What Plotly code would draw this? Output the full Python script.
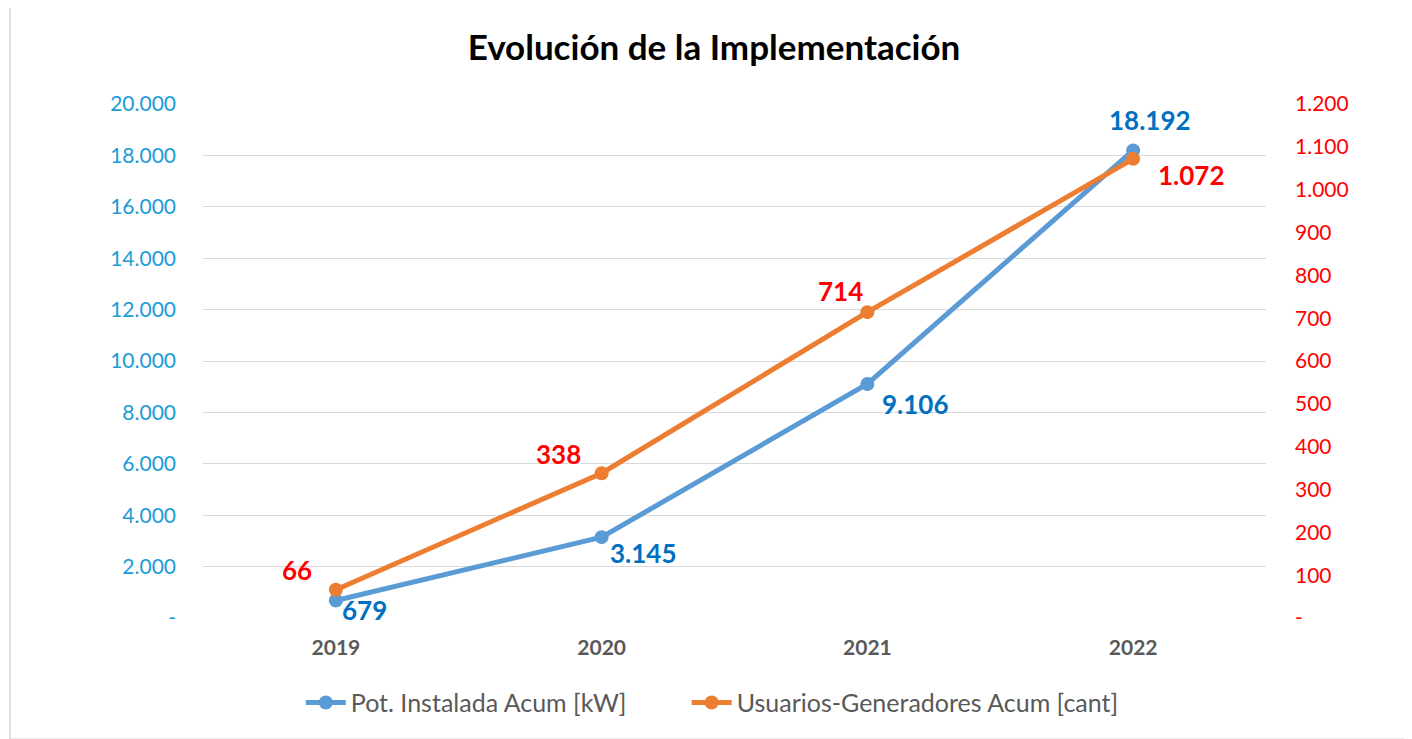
import plotly.graph_objects as go

years = ["2019", "2020", "2021", "2022"]
potencia_kw = [679, 3145, 9106, 18192]
usuarios = [66, 338, 714, 1072]
potencia_labels = ["679", "3.145", "9.106", "18.192"]
usuarios_labels = ["66", "338", "714", "1.072"]

left_tickvals = [0, 2000, 4000, 6000, 8000, 10000, 12000, 14000, 16000, 18000, 20000]
left_ticktext = ["-", "2.000", "4.000", "6.000", "8.000", "10.000", "12.000", "14.000", "16.000", "18.000", "20.000"]
right_tickvals = [0, 100, 200, 300, 400, 500, 600, 700, 800, 900, 1000, 1100, 1200]
right_ticktext = ["-", "100", "200", "300", "400", "500", "600", "700", "800", "900", "1.000", "1.100", "1.200"]

# label offsets (pixels)
pot_shift = [(29, -9), (42, -16), (48, -20), (17, 30)]
usu_shift = [(-39, 20), (-43, 19), (-27, 21), (58, -16)]

FONT = "Lato"
BLUE = "#5b9bd5"
ORANGE = "#ed7d31"

fig = go.Figure()
fig.add_trace(go.Scatter(
    x=years, y=potencia_kw, name="Pot. Instalada Acum [kW]",
    mode="lines+markers", line=dict(color=BLUE, width=5),
    marker=dict(color=BLUE, size=14), yaxis="y", legend="legend"))
fig.add_trace(go.Scatter(
    x=years, y=usuarios, name="Usuarios-Generadores Acum [cant]",
    mode="lines+markers", line=dict(color=ORANGE, width=5),
    marker=dict(color=ORANGE, size=14), yaxis="y2", legend="legend2"))

annotations = []
for i, (yv, t, (dx, dy)) in enumerate(zip(potencia_kw, potencia_labels, pot_shift)):
    annotations.append(dict(x=i, y=yv, xref="x", yref="y", text="<b>%s</b>" % t, showarrow=False,
                            xshift=dx, yshift=dy,
                            font=dict(family=FONT, size=26, color="#0070c0")))
for i, (yv, t, (dx, dy)) in enumerate(zip(usuarios, usuarios_labels, usu_shift)):
    annotations.append(dict(x=i, y=yv, xref="x", yref="y2", text="<b>%s</b>" % t, showarrow=False,
                            xshift=dx, yshift=dy,
                            font=dict(family=FONT, size=26, color="#ff0000")))

legend_style = dict(orientation="h", y=-0.165, yanchor="middle", xanchor="left",
                    font=dict(family=FONT, size=25, color="#595959"), itemwidth=40,
                    bgcolor="rgba(0,0,0,0)")

fig.update_layout(
    width=1412, height=739,
    margin=dict(l=195, r=154, t=96, b=129),
    paper_bgcolor="white", plot_bgcolor="white",
    font=dict(family=FONT),
    title=dict(text="<b>Evolución de la Implementación</b>", x=0.5, xanchor="center",
               y=0.946, yanchor="middle",
               font=dict(family=FONT, size=35, color="#000000")),
    xaxis=dict(type="category", range=[-0.5, 3.5], showgrid=False, showline=False,
               zeroline=False, ticks="", ticklabelstandoff=15,
               tickfont=dict(family=FONT, size=21, color="#595959", weight="bold")),
    yaxis=dict(range=[0, 20000], tickvals=left_tickvals, ticktext=left_ticktext,
               showgrid=True, gridcolor="#d9d9d9", gridwidth=1.3, zeroline=False,
               showline=False, ticks="", ticklabelstandoff=26,
               tickfont=dict(family=FONT, size=21, color="#1a9bd7")),
    yaxis2=dict(range=[0, 1200], tickvals=right_tickvals, ticktext=right_ticktext,
                overlaying="y", side="right", showgrid=False, zeroline=False,
                showline=False, ticks="", ticklabelstandoff=28,
                tickfont=dict(family=FONT, size=21, color="#ff0000")),
    legend=dict(x=0.092, **legend_style),
    legend2=dict(x=0.455, **legend_style),
    showlegend=True,
    annotations=annotations,
    shapes=[dict(type="rect", xref="paper", yref="paper",
                 x0=-0.1816, x1=1.1335, y0=-0.236, y1=1.1926,
                 line=dict(color="#d9d9d9", width=1.5), fillcolor="rgba(0,0,0,0)",
                 layer="below")],
)

fig.write_html("out.html")
